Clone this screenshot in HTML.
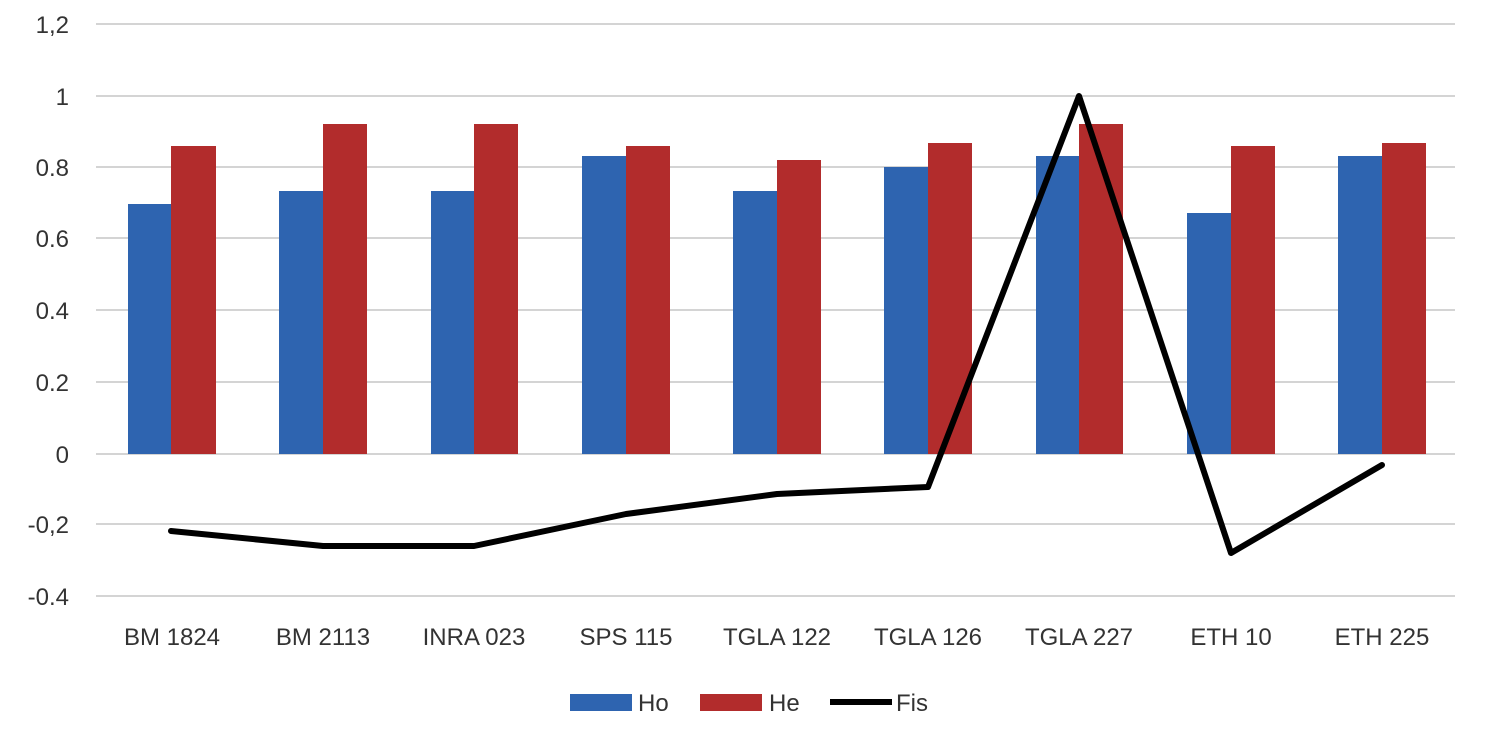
<!DOCTYPE html>
<html><head><meta charset="utf-8"><style>body{margin:0;background:#fff}svg{display:block}text{font-family:"Liberation Sans",sans-serif;fill:#333;font-size:24px}</style></head><body>
<svg width="1496" height="730" xmlns="http://www.w3.org/2000/svg">
<g stroke="#d4d4d4" stroke-width="2">
<line x1="96" x2="1455" y1="24" y2="24"/><line x1="96" x2="1455" y1="96" y2="96"/><line x1="96" x2="1455" y1="167" y2="167"/><line x1="96" x2="1455" y1="238" y2="238"/><line x1="96" x2="1455" y1="310" y2="310"/><line x1="96" x2="1455" y1="382" y2="382"/><line x1="96" x2="1455" y1="454" y2="454"/><line x1="96" x2="1455" y1="524" y2="524"/><line x1="96" x2="1455" y1="596" y2="596"/>
</g>
<g text-anchor="end">
<text x="69" y="33">1,2</text><text x="69" y="105">1</text><text x="69" y="176">0.8</text><text x="69" y="247">0.6</text><text x="69" y="319">0.4</text><text x="69" y="391">0.2</text><text x="69" y="463">0</text><text x="69" y="533">-0,2</text><text x="69" y="605">-0.4</text>
</g>
<g fill="#2e64b0">
<rect x="128" y="204" width="43" height="250"/><rect x="279" y="191" width="44" height="263"/><rect x="431" y="191" width="43" height="263"/><rect x="582" y="156" width="44" height="298"/><rect x="733" y="191" width="44" height="263"/><rect x="884" y="167" width="44" height="287"/><rect x="1036" y="156" width="43" height="298"/><rect x="1187" y="213" width="44" height="241"/><rect x="1338" y="156" width="44" height="298"/>
</g>
<g fill="#b22c2c">
<rect x="171" y="146" width="45" height="308"/><rect x="323" y="124" width="44" height="330"/><rect x="474" y="124" width="44" height="330"/><rect x="626" y="146" width="44" height="308"/><rect x="777" y="160" width="44" height="294"/><rect x="928" y="143" width="44" height="311"/><rect x="1079" y="124" width="44" height="330"/><rect x="1231" y="146" width="44" height="308"/><rect x="1382" y="143" width="44" height="311"/>
</g>
<polyline fill="none" stroke="#000" stroke-width="6" stroke-linejoin="round" stroke-linecap="round" points="171,531 323,546 474,546 626,514 777,494 928,487 1079,96 1231,553 1382,465"/>
<g text-anchor="middle">
<text x="172" y="645">BM 1824</text><text x="323" y="645">BM 2113</text><text x="474" y="645">INRA 023</text><text x="626" y="645">SPS 115</text><text x="777" y="645">TGLA 122</text><text x="928" y="645">TGLA 126</text><text x="1079" y="645">TGLA 227</text><text x="1231" y="645">ETH 10</text><text x="1382" y="645">ETH 225</text>
</g>
<rect x="570" y="694" width="62" height="17" fill="#2e64b0"/><text x="638" y="711">Ho</text>
<rect x="700" y="694" width="62" height="17" fill="#b22c2c"/><text x="769" y="711">He</text>
<line x1="830" x2="892" y1="702" y2="702" stroke="#000" stroke-width="6"/><text x="896" y="711">Fis</text>
</svg>
</body></html>
